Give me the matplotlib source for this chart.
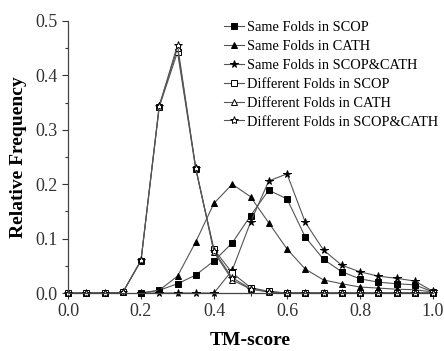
import numpy as np
import matplotlib.pyplot as plt
from matplotlib.ticker import MultipleLocator

plt.rcParams['font.family'] = ['Liberation Serif', 'DejaVu Serif']

x_same = [0.2, 0.25, 0.3, 0.35, 0.4, 0.45, 0.5, 0.55, 0.6, 0.65, 0.7, 0.75, 0.8, 0.85, 0.9, 0.95, 1.0]
same_scop = [0.0, 0.005, 0.017, 0.033, 0.059, 0.092, 0.142, 0.189, 0.173, 0.103, 0.062, 0.039, 0.026, 0.020, 0.017, 0.015, 0.002]
same_cath = [0.0, 0.005, 0.031, 0.094, 0.165, 0.200, 0.177, 0.129, 0.081, 0.044, 0.024, 0.017, 0.011, 0.009, 0.007, 0.006, 0.002]
same_both = [0.0, 0.0, 0.0, 0.0, 0.0, 0.042, 0.130, 0.206, 0.219, 0.130, 0.079, 0.051, 0.039, 0.031, 0.027, 0.022, 0.003]

x_diff = [0.0, 0.05, 0.1, 0.15, 0.2, 0.25, 0.3, 0.35, 0.4, 0.45, 0.5, 0.55, 0.6, 0.65, 0.7, 0.75, 0.8, 0.85, 0.9, 0.95, 1.0]
diff_scop = [0, 0, 0, 0.001, 0.059, 0.342, 0.443, 0.228, 0.080, 0.037, 0.010, 0.003, 0, 0, 0, 0, 0, 0, 0, 0, 0]
diff_cath = [0, 0, 0, 0.001, 0.060, 0.345, 0.450, 0.230, 0.075, 0.024, 0.007, 0.002, 0, 0, 0, 0, 0, 0, 0, 0, 0]
diff_both = [0, 0, 0, 0.001, 0.060, 0.343, 0.456, 0.229, 0.077, 0.028, 0.008, 0.002, 0, 0, 0, 0, 0, 0, 0, 0, 0]

labels = ['Same Folds in SCOP', 'Same Folds in CATH', 'Same Folds in SCOP&CATH',
          'Different Folds in SCOP', 'Different Folds in CATH', 'Different Folds in SCOP&CATH']

fig = plt.figure(figsize=(4.44, 3.51), dpi=100)
ax = fig.add_axes([68 / 444, 1 - 293 / 351, 365 / 444, 272 / 351])

line_kw = dict(color='#555555', lw=0.8, markeredgecolor='black', markeredgewidth=0.7)
ax.plot(x_same, same_scop, marker='s', ms=4.5, markerfacecolor='black', label=labels[0], **line_kw)
ax.plot(x_same, same_cath, marker='^', ms=5, markerfacecolor='black', label=labels[1], **line_kw)
ax.plot(x_same, same_both, marker='*', ms=5.5, markerfacecolor='black', label=labels[2], **line_kw)
ax.plot(x_diff, diff_scop, marker='s', ms=4.5, markerfacecolor='white', label=labels[3], **line_kw)
ax.plot(x_diff, diff_cath, marker='^', ms=5, markerfacecolor='white', label=labels[4], **line_kw)
ax.plot(x_diff, diff_both, marker='*', ms=6, markerfacecolor='white', label=labels[5], **line_kw)

ax.set_xlim(0, 1.0)
ax.set_ylim(0, 0.5)
ax.xaxis.set_major_locator(MultipleLocator(0.2))
ax.xaxis.set_minor_locator(MultipleLocator(0.1))
ax.yaxis.set_major_locator(MultipleLocator(0.1))
ax.yaxis.set_minor_locator(MultipleLocator(0.05))
ax.xaxis.set_major_formatter(plt.FormatStrFormatter('%.1f'))
ax.yaxis.set_major_formatter(plt.FormatStrFormatter('%.1f'))
ax.tick_params(which='major', direction='out', length=4, width=0.8, labelsize=13, colors='#333333')
ax.tick_params(which='minor', direction='out', length=2, width=0.8, colors='#333333')
ax.spines['top'].set_visible(False)
ax.spines['right'].set_visible(False)
for s in ('left', 'bottom'):
    ax.spines[s].set_color('#444444')
    ax.spines[s].set_linewidth(0.9)
for ln in ax.lines:
    ln.set_clip_on(False)

ax.set_xlabel('TM-score', fontsize=14, fontweight='bold', labelpad=8)
ax.set_ylabel('Relative Frequency', fontsize=14, fontweight='bold', labelpad=6)

ax.legend(loc='upper left', bbox_to_anchor=(224 / 444, 1 - 21 / 351), bbox_transform=fig.transFigure,
          frameon=False, fontsize=10.4, handlelength=1.4, handletextpad=0.2, labelspacing=0.4,
          borderpad=0, borderaxespad=0)

fig.savefig('out.png', dpi=100)
